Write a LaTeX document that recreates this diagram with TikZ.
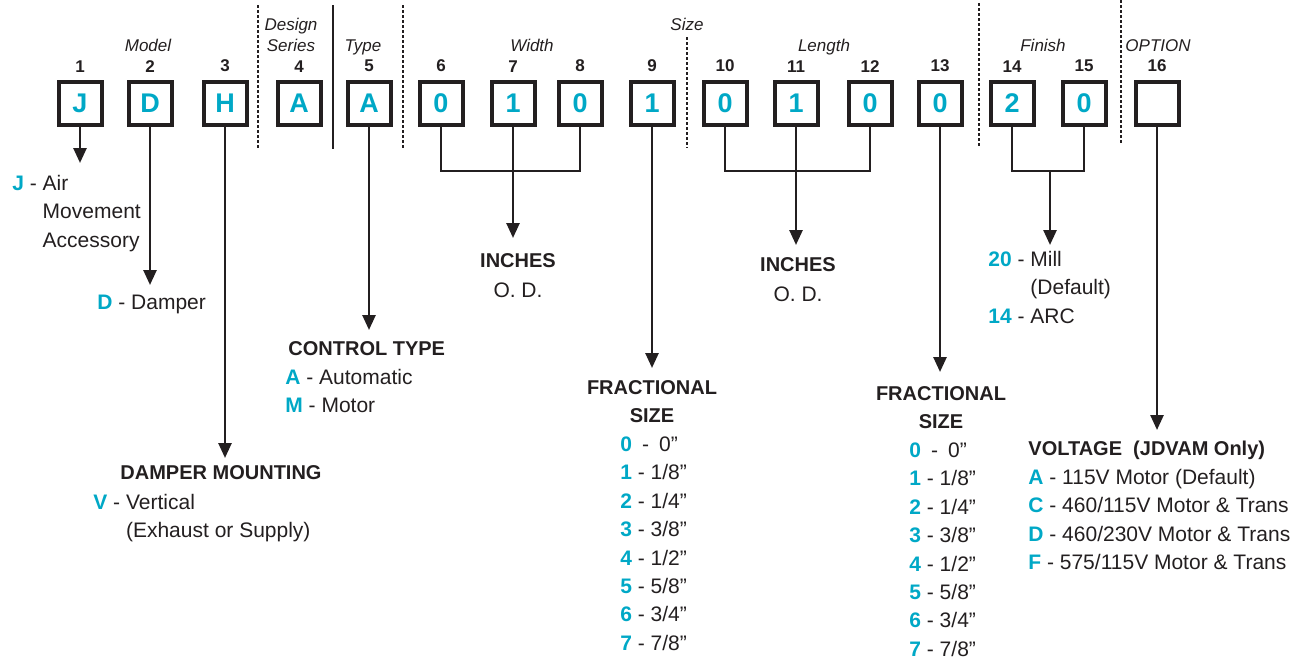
\documentclass[tikz,border=0pt]{standalone}
\usepackage{fontspec}
\setmainfont{Liberation Sans}
\usetikzlibrary{arrows.meta}
\definecolor{keycyan}{HTML}{00A8C6}
\definecolor{ink}{HTML}{231F20}
\newcommand{\keyc}[1]{\textcolor{keycyan}{\bfseries #1}}
\newcommand{\headtxt}[1]{{\fontsize{10}{14.2}\selectfont\bfseries #1}}

\begin{document}
\begin{tikzpicture}[x=0.5pt, y=-0.5pt,
  every node/.style={text=ink, inner sep=0pt},
  cell/.style={draw=ink, line width=2pt, minimum size=21.5pt,
               font=\fontsize{13.5}{14}\selectfont\bfseries, text=keycyan},
  posnum/.style={font=\fontsize{8.5}{10}\selectfont\bfseries},
  grp/.style={font=\fontsize{8.5}{10.5}\selectfont\itshape, anchor=base},
  desc/.style={font=\fontsize{10.5}{14.2}\selectfont, anchor=base west},
  head/.style={font=\fontsize{10}{14.2}\selectfont\bfseries, anchor=base west},
  conn/.style={draw=ink, line width=1.3pt},
  arr/.style={conn, -{Triangle[length=7.5pt, width=6.5pt]}},
  sep/.style={draw=ink, line width=0.6pt, dash pattern=on 1.5pt off 1pt},
  label distance=3.5pt
]
  \useasboundingbox (0,0) rectangle (1299,664);

  % group separators
  \draw[sep] (258,5) -- (258,149);
  \draw[conn, line width=0.6pt] (333,5) -- (333,149);
  \draw[sep] (403,5) -- (403,149);
  \draw[sep] (687,37) -- (687,148);
  \draw[sep] (979,3) -- (979,147);
  \draw[sep] (1121,0) -- (1121,144);

  % group titles
  \node[grp] (gmodel) at (148,51) {Model};
  \node[grp] (gdesign) at (291,30) {\begin{tabular}[t]{@{}c@{}}Design\\Series\end{tabular}};
  \node[grp] (gtype) at (363,51) {Type};
  \node[grp] (gsize) at (687,30) {Size};
  \node[grp] (gwidth) at (532,51) {Width};
  \node[grp] (glength) at (824,51) {Length};
  \node[grp] (gfinish) at (1043,51) {Finish};
  \node[grp] (goption) at (1158,51) {OPTION};

  % code cells
  \node[cell, label={[posnum]above:1}] (c1) at (80,103) {J};
  \node[cell, label={[posnum]above:2}] (c2) at (150,103) {D};
  \node[cell, label={[posnum]above:3}] (c3) at (225,103) {H};
  \node[cell, label={[posnum]above:4}] (c4) at (299,103) {A};
  \node[cell, label={[posnum]above:5}] (c5) at (369,103) {A};
  \node[cell, label={[posnum]above:6}] (c6) at (441,103) {0};
  \node[cell, label={[posnum]above:7}] (c7) at (513,103) {1};
  \node[cell, label={[posnum]above:8}] (c8) at (580,103) {0};
  \node[cell, label={[posnum]above:9}] (c9) at (652,103) {1};
  \node[cell, label={[posnum]above:10}] (c10) at (725,103) {0};
  \node[cell, label={[posnum]above:11}] (c11) at (796,103) {1};
  \node[cell, label={[posnum]above:12}] (c12) at (870,103) {0};
  \node[cell, label={[posnum]above:13}] (c13) at (940,103) {0};
  \node[cell, label={[posnum]above:14}] (c14) at (1012,103) {2};
  \node[cell, label={[posnum]above:15}] (c15) at (1084,103) {0};
  \node[cell, label={[posnum]above:16}] (c16) at (1157,103) {};

  % descriptions
  \node[desc] (jtxt) at (12,190.5) {\begin{tabular}[t]{@{}l@{}l@{}}\keyc{J} -~\mbox{} & Air\\ & Movement\\ & Accessory\end{tabular}};
  \node[desc] (dtxt) at (97,309.5) {\keyc{D} - Damper};
  \node[head, anchor=base] (mnthead) at (221,479) {DAMPER MOUNTING};
  \node[desc] (mnttxt) at (93,509.5) {\begin{tabular}[t]{@{}l@{}l@{}}\keyc{V} -~\mbox{} & Vertical\\ & (Exhaust or Supply)\end{tabular}};
  \node[head] (ctlhead) at (288,355) {CONTROL TYPE};
  \node[desc] (ctltxt) at (285,384.5) {\begin{tabular}[t]{@{}l@{}}\keyc{A} - Automatic\\ \keyc{M} - Motor\end{tabular}};
  \node[desc, anchor=base] (wtxt) at (518,267) {\begin{tabular}[t]{@{}c@{}}\headtxt{INCHES}\\[1pt] O. D.\end{tabular}};
  \node[head, anchor=base] (fr1head) at (652,394) {\begin{tabular}[t]{@{}c@{}}FRACTIONAL\\SIZE\end{tabular}};
  \node[desc] (fr1txt) at (620,451.5) {\begin{tabular}[t]{@{}l@{}}\keyc{0}\hspace{5pt}-\hspace{5pt}0”\\ \keyc{1} - 1/8”\\ \keyc{2} - 1/4”\\ \keyc{3} - 3/8”\\ \keyc{4} - 1/2”\\ \keyc{5} - 5/8”\\ \keyc{6} - 3/4”\\ \keyc{7} - 7/8”\end{tabular}};
  \node[desc, anchor=base] (ltxt) at (798,271) {\begin{tabular}[t]{@{}c@{}}\headtxt{INCHES}\\[1pt] O. D.\end{tabular}};
  \node[head, anchor=base] (fr2head) at (941,400) {\begin{tabular}[t]{@{}c@{}}FRACTIONAL\\SIZE\end{tabular}};
  \node[desc] (fr2txt) at (909,457.5) {\begin{tabular}[t]{@{}l@{}}\keyc{0}\hspace{5pt}-\hspace{5pt}0”\\ \keyc{1} - 1/8”\\ \keyc{2} - 1/4”\\ \keyc{3} - 3/8”\\ \keyc{4} - 1/2”\\ \keyc{5} - 5/8”\\ \keyc{6} - 3/4”\\ \keyc{7} - 7/8”\end{tabular}};
  \node[desc] (fintxt) at (988,266.5) {\begin{tabular}[t]{@{}l@{}l@{}}\keyc{20} -~\mbox{} & Mill\\ & (Default)\\ \keyc{14} -~\mbox{} & ARC\end{tabular}};
  \node[head] (volthead) at (1028,455) {VOLTAGE\ \ (JDVAM Only)};
  \node[desc] (volttxt) at (1028,484.5) {\begin{tabular}[t]{@{}l@{}}\keyc{A} - 115V Motor (Default)\\ \keyc{C} - 460/115V Motor \& Trans\\ \keyc{D} - 460/230V Motor \& Trans\\ \keyc{F} - 575/115V Motor \& Trans\end{tabular}};

  % connector ends
  \coordinate (jend) at (80,163);
  \coordinate (dend) at (150,285);
  \coordinate (hend) at (225,458);
  \coordinate (tend) at (369,330);
  \coordinate (wbar) at (513,171);
  \coordinate (wend) at (513,238);
  \coordinate (s9end) at (652,368);
  \coordinate (lbar) at (796,171);
  \coordinate (lend) at (796,245);
  \coordinate (s13end) at (940,372);
  \coordinate (fbar) at (1050,171);
  \coordinate (fend) at (1050,245);
  \coordinate (oend) at (1157,430);

  \draw[arr] (c1.south) -- (jend);
  \draw[arr] (c2.south) -- (dend);
  \draw[arr] (c3.south) -- (hend);
  \draw[arr] (c5.south) -- (tend);
  \draw[conn] (c6.south) |- (wbar) -| (c8.south);
  \draw[arr] (c7.south) -- (wend);
  \draw[arr] (c9.south) -- (s9end);
  \draw[conn] (c10.south) |- (lbar) -| (c12.south);
  \draw[arr] (c11.south) -- (lend);
  \draw[arr] (c13.south) -- (s13end);
  \draw[conn] (c14.south) |- (fbar) -| (c15.south);
  \draw[arr] (fbar) -- (fend);
  \draw[arr] (c16.south) -- (oend);
\end{tikzpicture}
\end{document}
